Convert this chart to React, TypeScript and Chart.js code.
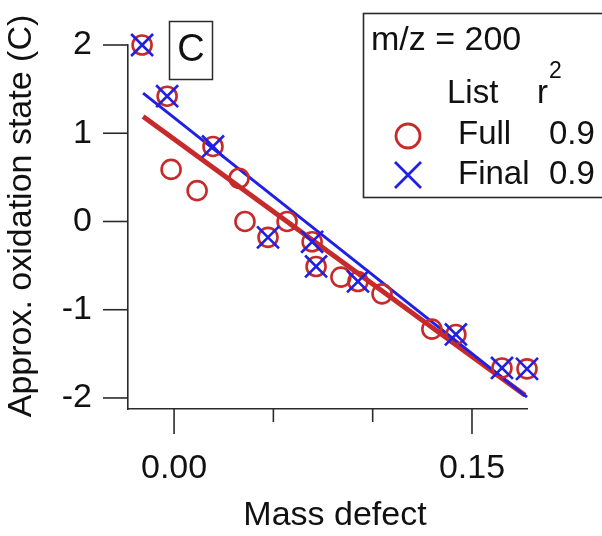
import React, { useEffect, useRef } from 'react';
import { Chart, registerables } from 'chart.js';

Chart.register(...registerables);

// ---- data ----
const fullX = [-0.0161, -0.0035, -0.0015, 0.0116, 0.0196, 0.0327, 0.0357, 0.0473, 0.0569, 0.0695, 0.0715, 0.084, 0.0926, 0.1047, 0.1298, 0.1419, 0.1651, 0.1777];
const fullY = [2.0, 1.42, 0.59, 0.35, 0.85, 0.49, 0.0, -0.18, 0.0, -0.23, -0.51, -0.63, -0.68, -0.82, -1.22, -1.28, -1.66, -1.67];
const finalX = [-0.0161, -0.0035, 0.0196, 0.0473, 0.0695, 0.0715, 0.0926, 0.1419, 0.1651, 0.1777];
const finalY = [2.0, 1.42, 0.85, -0.18, -0.23, -0.51, -0.68, -1.28, -1.66, -1.67];
const fitFullX = [-0.0156, 0.1767];
const fitFullY = [1.19, -1.97];
const fitFinalX = [-0.0156, 0.1777];
const fitFinalY = [1.455, -1.99];

const xMajorTicks = [0, 0.15];
const xMinorTicks = [0.05, 0.1];
const yTicks = [-2, -1, 0, 1, 2];
const xRange = [-0.0232, 0.1777];
const yRange = [-2.125, 2];

const xTitle = 'Mass defect';
const yTitle = 'Approx. oxidation state (C)';
const panelLabel = 'C';
const legendTitle = 'm/z = 200';
const legendHeadList = 'List';
const legendHeadR = 'r';
const legendHeadSup = '2';
const legendNames = ['Full', 'Final'];
const legendR2 = ['0.9', '0.9'];

const RED = '#c62a2a';
const BLUE = '#1f1fe6';
const AXIS = '#2a2a2a';
const TEXT = '#111111';
const FONT = '"Liberation Sans", Arial, Helvetica, sans-serif';

const toPts = (xs: number[], ys: number[]) => xs.map((x, i) => ({ x, y: ys[i] }));

const decor = {
  id: 'decor',
  afterDraw(chart: any) {
    const { ctx, chartArea } = chart;
    const xs = chart.scales.x;
    const ys = chart.scales.y;
    ctx.save();
    ctx.strokeStyle = AXIS;
    ctx.lineWidth = 1.6;
    // x tick marks
    const drawXTick = (v: number, len: number) => {
      const px = xs.getPixelForValue(v);
      ctx.beginPath();
      ctx.moveTo(px, chartArea.bottom);
      ctx.lineTo(px, chartArea.bottom + len);
      ctx.stroke();
    };
    xMajorTicks.forEach((v) => drawXTick(v, 25));
    xMinorTicks.forEach((v) => drawXTick(v, 13));
    // y tick marks
    yTicks.forEach((v) => {
      const py = ys.getPixelForValue(v);
      ctx.beginPath();
      ctx.moveTo(chartArea.left - 25, py);
      ctx.lineTo(chartArea.left, py);
      ctx.stroke();
    });

    // axis titles
    ctx.fillStyle = TEXT;
    ctx.textBaseline = 'middle';
    ctx.textAlign = 'center';
    ctx.font = `34px ${FONT}`;
    ctx.fillText(xTitle, chartArea.left + 207, 516);
    ctx.save();
    ctx.translate(22, 216);
    ctx.rotate(-Math.PI / 2);
    ctx.fillText(yTitle, 0, 0);
    ctx.restore();

    // panel label box
    const bx = chartArea.left + 41;
    const by = 21;
    ctx.strokeStyle = AXIS;
    ctx.lineWidth = 1.5;
    ctx.strokeRect(bx + 0.5, by + 0.5, 43, 58);
    ctx.font = `38px ${FONT}`;
    ctx.textAlign = 'center';
    ctx.fillText(panelLabel, bx + 22, by + 30);

    // legend box
    const lx = 363;
    const ly = 13;
    ctx.lineWidth = 1.6;
    ctx.strokeRect(lx + 0.5, ly + 0.5, 300, 184);
    ctx.textAlign = 'left';
    ctx.font = `34px ${FONT}`;
    ctx.fillText(legendTitle, lx + 8, 41);
    ctx.font = `33px ${FONT}`;
    ctx.fillText(legendHeadList, lx + 84, 94);
    ctx.fillText(legendHeadR, lx + 174, 94);
    ctx.font = `23px ${FONT}`;
    ctx.fillText(legendHeadSup, lx + 186, 72);
    ctx.font = `33px ${FONT}`;
    const rowY = [135, 175];
    legendNames.forEach((name, i) => {
      ctx.fillText(name, lx + 95, rowY[i]);
      ctx.fillText(legendR2[i], lx + 186, rowY[i]);
    });
    // legend markers
    const mx = lx + 45;
    ctx.lineWidth = 2.8;
    ctx.strokeStyle = RED;
    ctx.beginPath();
    ctx.arc(mx, rowY[0] + 1, 12, 0, Math.PI * 2);
    ctx.stroke();
    ctx.strokeStyle = BLUE;
    ctx.beginPath();
    ctx.moveTo(mx - 13, rowY[1] - 13);
    ctx.lineTo(mx + 13, rowY[1] + 13);
    ctx.moveTo(mx - 13, rowY[1] + 13);
    ctx.lineTo(mx + 13, rowY[1] - 13);
    ctx.stroke();
    ctx.restore();
  },
};

export default function App() {
  const ref = useRef<HTMLCanvasElement | null>(null);
  useEffect(() => {
    if (!ref.current) return;
    const chart = new Chart(ref.current, {
      type: 'scatter',
      data: {
        datasets: [
          {
            label: 'Final',
            data: toPts(finalX, finalY),
            pointStyle: 'crossRot',
            pointRadius: 15.5,
            pointBorderWidth: 2.6,
            borderColor: BLUE,
            backgroundColor: BLUE,
            clip: false,
          } as any,
          {
            label: 'Full',
            data: toPts(fullX, fullY),
            pointStyle: 'circle',
            pointRadius: 9.5,
            pointBorderWidth: 2.6,
            borderColor: RED,
            backgroundColor: 'rgba(0,0,0,0)',
            clip: false,
          } as any,
          {
            label: 'Final fit',
            data: toPts(fitFinalX, fitFinalY),
            showLine: true,
            pointRadius: 0,
            borderColor: BLUE,
            borderWidth: 3,
            clip: false,
          } as any,
          {
            label: 'Full fit',
            data: toPts(fitFullX, fitFullY),
            showLine: true,
            pointRadius: 0,
            borderColor: RED,
            borderWidth: 5,
            clip: false,
          } as any,
        ],
      },
      options: {
        animation: false,
        responsive: false,
        devicePixelRatio: 1,
        layout: { padding: { left: 0, top: 45, right: 75, bottom: 0 } },
        plugins: { legend: { display: false }, tooltip: { enabled: false } },
        events: [],
        scales: {
          x: {
            type: 'linear',
            min: xRange[0],
            max: xRange[1],
            afterBuildTicks: (s: any) => {
              s.ticks = xMajorTicks.map((v) => ({ value: v }));
            },
            afterFit: (s: any) => {
              s.height = 127;
              s.paddingLeft = 0;
              s.paddingRight = 0;
            },
            grid: { display: false, drawTicks: false },
            border: { display: true, color: AXIS, width: 1.6 },
            ticks: {
              padding: 39,
              color: TEXT,
              font: { family: FONT, size: 34 },
              maxRotation: 0,
              autoSkip: false,
              callback: (v: any) => Number(v).toFixed(2),
            },
            title: { display: false },
          },
          y: {
            type: 'linear',
            min: yRange[0],
            max: yRange[1],
            afterBuildTicks: (s: any) => {
              s.ticks = yTicks.map((v) => ({ value: v }));
            },
            afterFit: (s: any) => {
              s.width = 128;
              s.paddingTop = 0;
              s.paddingBottom = 0;
            },
            grid: { display: false, drawTicks: false },
            border: { display: true, color: AXIS, width: 1.6 },
            ticks: {
              padding: 36,
              color: TEXT,
              font: { family: FONT, size: 34 },
              autoSkip: false,
              callback: (v: any) => String(v),
            },
            title: { display: false },
          },
        },
      },
      plugins: [decor],
    } as any);
    return () => chart.destroy();
  }, []);
  return (
    <div style={{ position: 'absolute', left: 0, top: 0, width: 602, height: 536, background: '#fff' }}>
      <canvas ref={ref} width={602} height={536} style={{ display: 'block', width: 602, height: 536 }} />
    </div>
  );
}
